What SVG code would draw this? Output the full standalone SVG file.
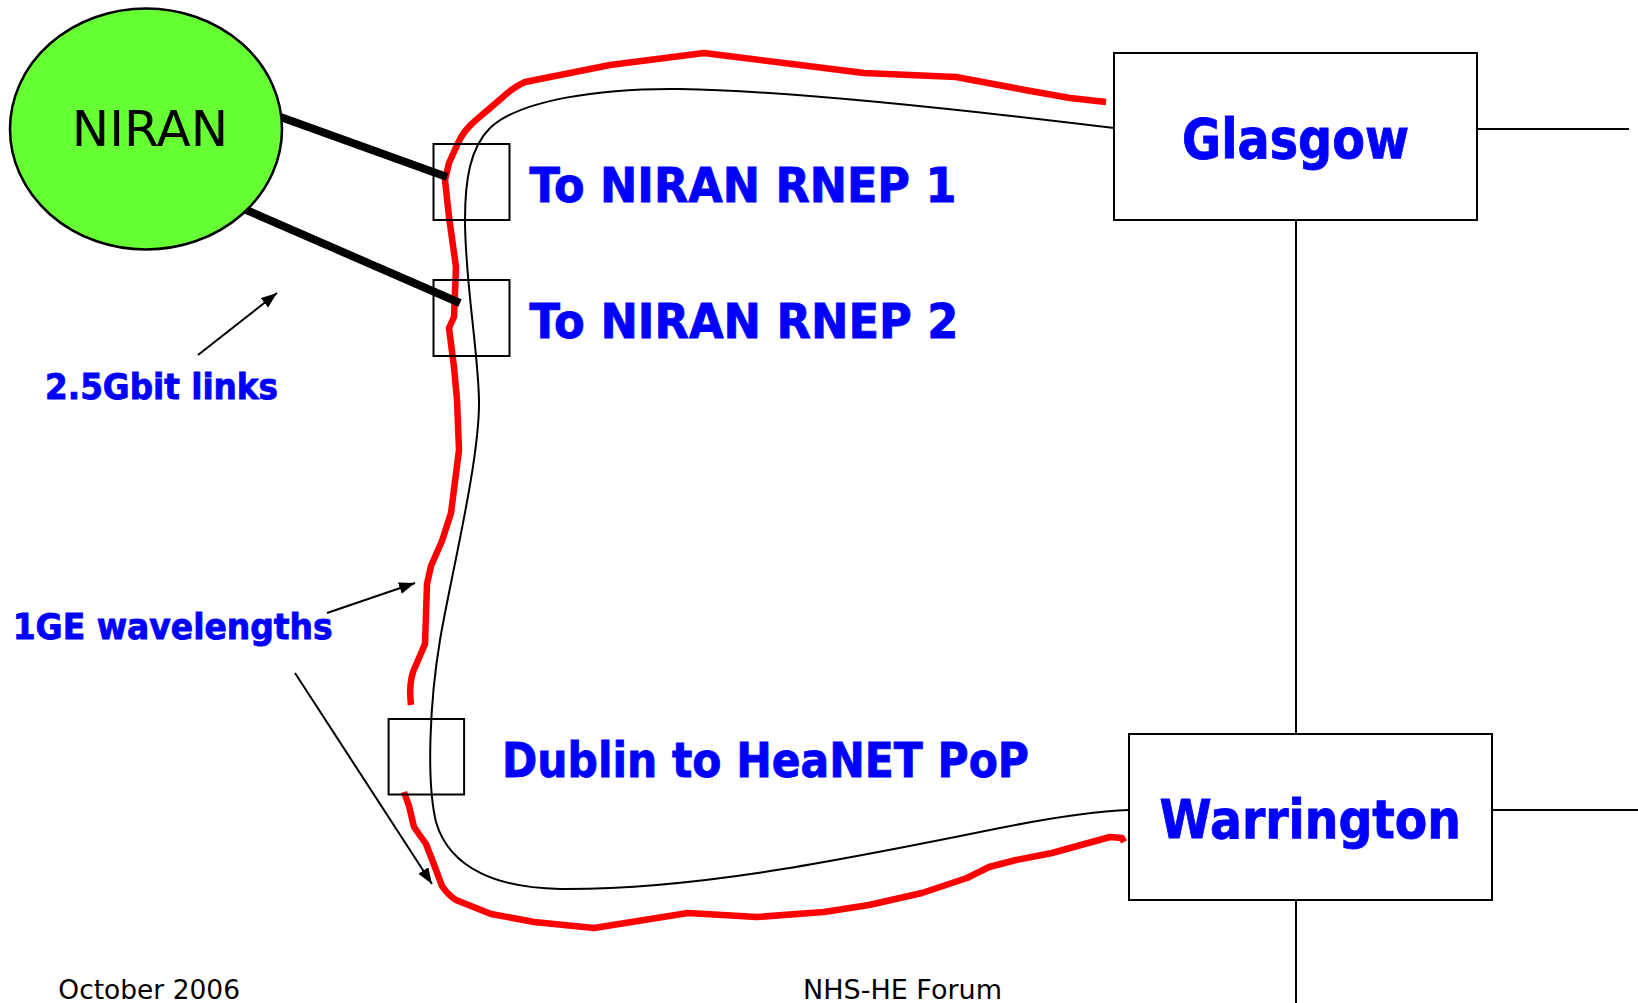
<svg xmlns="http://www.w3.org/2000/svg" width="1638" height="1003" viewBox="0 0 1638 1003">
<style>
.box{fill:#ffffff;stroke:#000000;stroke-width:2}
.sbox{fill:none;stroke:#000000;stroke-width:2}
.lbl{font-family:"DejaVu Sans","Liberation Sans",sans-serif;font-weight:bold;fill:#0000ff;stroke:#0000ff;stroke-width:0.9}
.foot{font-family:"DejaVu Sans","Liberation Sans",sans-serif;fill:#000000;font-size:26px}
.thin{fill:none;stroke:#000000;stroke-width:2}
.red{fill:none;stroke:#ff0000;stroke-width:6.5;stroke-linejoin:round}
.thick{stroke:#000000;stroke-width:8}
.arr{stroke:#000000;stroke-width:2;marker-end:url(#ah)}
</style>
<defs>
<marker id="ah" markerUnits="userSpaceOnUse" markerWidth="18" markerHeight="14" refX="16" refY="6" orient="auto">
<path d="M0,0 L16,6 L0,12 z" fill="#000000"/>
</marker>
</defs>
<rect width="1638" height="1003" fill="#ffffff"/>
<g id="connectors">
<path class="thin" d="M1114 128 C900 102 760 90 680 89 C600 88 520 100 490 128 C470 148 465 180 465 220 C465 280 478 350 479 400 C480 460 450 580 440 640 C430 700 426 780 436 822 C450 870 500 888 560 889 C700 890 850 858 1000 828 C1060 816 1100 811 1129 810"/>
<path class="red" d="M1106 102 L1070 98 L1025 90 L956 77 L864 73 L704 53 L610 65 L525 82 Q512 88 503 97 L476 120 Q464 130 458 143 L449 163 L445 180 L449 217 L456 267 L454 317 L449 328 L454 367 L457 400 L459 450 L451 513 L442 541 L431 566 L427 584 L425 644 L416 665 Q408 680 411 705"/>
<path class="red" d="M404 792 L409 806 L414 827 L426 844 L433 862 L442 886 Q448 895 456 900 L491 914 L534 922 L594 928 L688 913 L757 917 L824 912 L869 905 L922 893 L967 878 L989 867 L1016 860 L1052 853 L1110 837 L1122 838 L1124 842"/>
<line class="thick" x1="275" y1="115" x2="447" y2="177"/>
<line class="thick" x1="244" y1="209" x2="460" y2="303"/>
<line class="thin" x1="1477" y1="129" x2="1629" y2="129"/>
<line class="thin" x1="1296" y1="220" x2="1296" y2="734"/>
<line class="thin" x1="1492" y1="810" x2="1638" y2="810"/>
<line class="thin" x1="1296" y1="900" x2="1296" y2="1003"/>
<line class="arr" x1="198" y1="355" x2="277" y2="293"/>
<line class="arr" x1="327" y1="613" x2="415" y2="583"/>
<line class="arr" x1="295" y1="673" x2="432" y2="884"/>
</g>
<g id="niran">
<ellipse cx="146" cy="129" rx="136" ry="120.5" fill="#66ff33" stroke="#000000" stroke-width="2.5"/>
<text x="150" y="146" text-anchor="middle" font-family="DejaVu Sans, Liberation Sans, sans-serif" font-size="50" fill="#000000">NIRAN</text>
</g>
<g id="rnep1">
<rect class="sbox" x="433.5" y="144" width="76" height="76"/>
<text class="lbl" x="529.5" y="202" font-size="48" textLength="427" lengthAdjust="spacingAndGlyphs">To NIRAN RNEP 1</text>
</g>
<g id="rnep2">
<rect class="sbox" x="433.5" y="280" width="76" height="76"/>
<text class="lbl" x="529.5" y="338" font-size="48" textLength="429" lengthAdjust="spacingAndGlyphs">To NIRAN RNEP 2</text>
</g>
<g id="dublin">
<rect class="sbox" x="388.6" y="719" width="75.5" height="75.5"/>
<text class="lbl" x="502" y="777" font-size="48" textLength="527" lengthAdjust="spacingAndGlyphs">Dublin to HeaNET PoP</text>
</g>
<g id="glasgow">
<rect class="box" x="1114" y="53" width="363" height="167"/>
<text class="lbl" x="1182" y="158" font-size="55" textLength="227" lengthAdjust="spacingAndGlyphs">Glasgow</text>
</g>
<g id="warrington">
<rect class="box" x="1129" y="734" width="363" height="166"/>
<text class="lbl" x="1159.5" y="838" font-size="54" textLength="301.5" lengthAdjust="spacingAndGlyphs">Warrington</text>
</g>
<g id="labels">
<text class="lbl" x="45" y="399" font-size="35" textLength="233" lengthAdjust="spacingAndGlyphs">2.5Gbit links</text>
<text class="lbl" x="12.7" y="639" font-size="35" textLength="320" lengthAdjust="spacingAndGlyphs">1GE wavelengths</text>
<text class="foot" x="58.3" y="999" textLength="181.7" lengthAdjust="spacingAndGlyphs">October 2006</text>
<text class="foot" x="803" y="999" textLength="199" lengthAdjust="spacingAndGlyphs">NHS-HE Forum</text>
</g>
</svg>
